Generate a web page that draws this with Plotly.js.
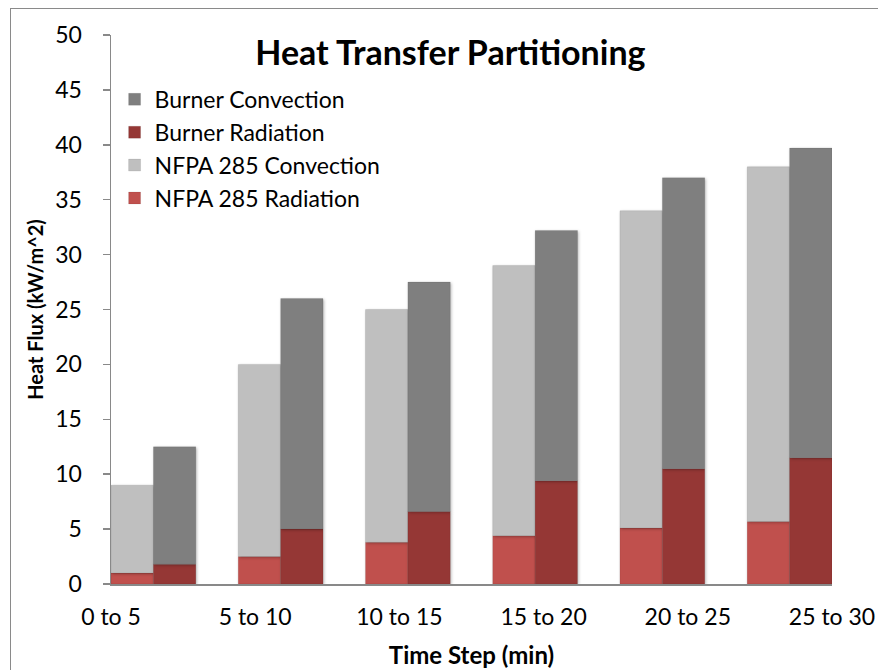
<!DOCTYPE html>
<html>
<head>
<meta charset="utf-8">
<script src="https://cdn.plot.ly/plotly-3.0.1.min.js"></script>
<style>
  html, body { margin: 0; padding: 0; background: #ffffff; overflow: hidden; }
  #chart { position: absolute; left: 0; top: 0; width: 878px; height: 670px; }
  #frame {
    position: absolute; left: 10px; top: 8px; width: 900px; height: 700px;
    border: 1.5px solid #8a8a8a; pointer-events: none; box-sizing: border-box;
  }
  /* soft shadow behind the bars */
  #chart .barlayer .point path { filter: drop-shadow(1.5px 1.5px 1.5px rgba(0,0,0,0.28)); }
</style>
</head>
<body>
<div id="chart"></div>
<div id="frame"></div>
<script>
// Time intervals (minutes)
const timeSteps = ["0 to 5", "5 to 10", "10 to 15", "15 to 20", "20 to 25", "25 to 30"];

// NFPA 285 heat flux (kW/m^2): radiative part and total (radiation + convection)
const nfpaRadiation = [1.0, 2.5, 3.8, 4.4, 5.1, 5.7];
const nfpaTotal     = [9.0, 20.0, 25.0, 29.0, 34.0, 38.0];

// Burner heat flux (kW/m^2): radiative part and total (radiation + convection)
const burnerRadiation = [1.8, 5.0, 6.6, 9.4, 10.5, 11.5];
const burnerTotal     = [12.5, 26.0, 27.5, 32.2, 37.0, 39.7];

const yTicks = [0, 5, 10, 15, 20, 25, 30, 35, 40, 45, 50];

const nfpaConvection   = nfpaTotal.map((t, i) => t - nfpaRadiation[i]);
const burnerConvection = burnerTotal.map((t, i) => t - burnerRadiation[i]);

const FONT = "Lato, 'Open Sans', sans-serif";
const AXIS_GREY = "#898989";

function barTrace(name, values, base, color, group, rank) {
  return {
    type: "bar",
    name: name,
    x: timeSteps,
    y: values,
    base: base,
    offsetgroup: group,
    legendgroup: name,
    legendrank: rank,
    marker: { color: color, line: { color: "rgba(0,0,0,0.10)", width: 0.8 } },
    hoverinfo: "skip"
  };
}

const traces = [
  barTrace("NFPA 285 Radiation", nfpaRadiation, undefined, "#c0504d", "nfpa", 4),
  barTrace("NFPA 285 Convection", nfpaConvection, nfpaRadiation, "#bfbfbf", "nfpa", 3),
  barTrace("Burner Radiation", burnerRadiation, undefined, "#953735", "burner", 2),
  barTrace("Burner Convection", burnerConvection, burnerRadiation, "#7f7f7f", "burner", 1),
  // carrier for the evenly spread time-step labels
  { type: "scatter", x: [], y: [], xaxis: "x2", showlegend: false, hoverinfo: "skip" }
];

const layout = {
  width: 878,
  height: 670,
  margin: { l: 111, r: 46, t: 35, b: 86 },
  paper_bgcolor: "#ffffff",
  plot_bgcolor: "#ffffff",
  font: { family: FONT, color: "#000000", size: 20 },
  showlegend: true,
  barmode: "group",
  bargap: 1 / 3,
  bargroupgap: 0,
  title: {
    text: "<b>Heat Transfer Partitioning</b>",
    font: { family: FONT, size: 34, color: "#000000" },
    x: 0.513, xref: "container", xanchor: "center",
    y: 0.921, yref: "container", yanchor: "middle"
  },
  legend: {
    x: 0.005, xanchor: "left",
    y: 0.922, yanchor: "top",
    traceorder: "grouped",
    tracegroupgap: 0,
    bgcolor: "rgba(0,0,0,0)",
    font: { family: FONT, size: 23, color: "#000000" },
    itemclick: false
  },
  xaxis: {
    type: "category",
    range: [-1 / 3, timeSteps.length - 1 + 1 / 3],
    showticklabels: false,
    ticks: "",
    showgrid: false,
    zeroline: false,
    showline: true,
    linecolor: AXIS_GREY,
    linewidth: 1.5,
    fixedrange: true
  },
  xaxis2: {
    overlaying: "x",
    anchor: "y",
    side: "bottom",
    range: [0, timeSteps.length - 1],
    tickmode: "array",
    tickvals: timeSteps.map((_, i) => i),
    ticktext: timeSteps,
    ticks: "",
    showgrid: false,
    zeroline: false,
    showline: false,
    tickfont: { family: FONT, size: 23, color: "#000000" },
    ticklabelstandoff: 17,
    title: {
      text: "<b>Time Step (min)</b>",
      font: { family: FONT, size: 24, color: "#000000" },
      standoff: 18
    },
    fixedrange: true
  },
  yaxis: {
    range: [0, 50],
    tickmode: "array",
    tickvals: yTicks,
    ticktext: yTicks.map(String),
    ticks: "outside",
    ticklen: 7,
    tickwidth: 1.5,
    tickcolor: AXIS_GREY,
    showline: true,
    linecolor: AXIS_GREY,
    linewidth: 1.5,
    showgrid: false,
    zeroline: false,
    tickfont: { family: FONT, size: 23, color: "#000000" },
    ticklabelstandoff: 16,
    title: {
      text: "<b>Heat Flux (kW/m^2)</b>",
      font: { family: FONT, size: 20, color: "#000000" },
      standoff: 6
    },
    fixedrange: true
  }
};

Plotly.newPlot("chart", traces, layout, { staticPlot: true, displayModeBar: false });
</script>
</body>
</html>
